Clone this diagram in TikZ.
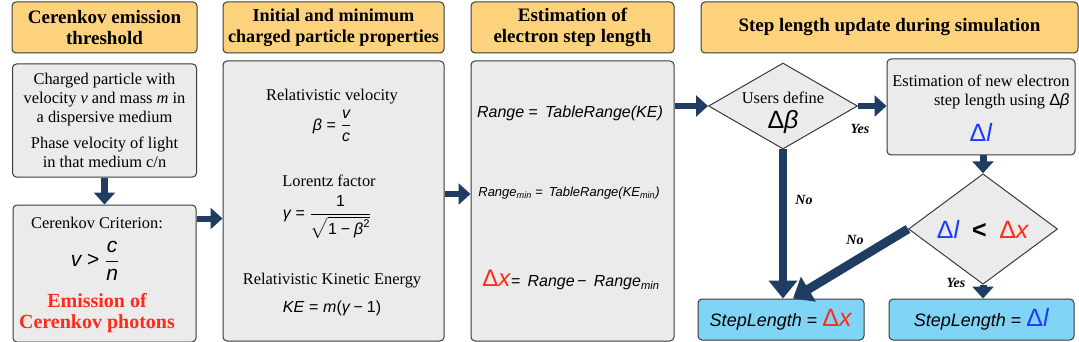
\documentclass[tikz,border=0pt]{standalone}
\usepackage{amsmath}
\usepackage{fontspec}
\setmainfont{Liberation Serif}
\setsansfont{Liberation Sans}
\usepackage{tikz}
\usetikzlibrary{arrows.meta, calc, positioning, shapes.geometric}
\usepackage{xcolor}
\definecolor{mSand}{HTML}{FDD27C}
\definecolor{mPanel}{HTML}{EBEBEB}
\definecolor{mSky}{HTML}{80D5F7}
\definecolor{mNavy}{HTML}{1F3D63}
\definecolor{mEdge}{HTML}{3A3A3A}
\definecolor{mRed}{HTML}{FF2A1A}
\definecolor{mBlue}{HTML}{1A3CFF}
\newcommand{\sv}[1]{\text{\sffamily\itshape #1}}
\newcommand{\su}[1]{\text{\sffamily\upshape #1}}
\newcommand{\eqs}{\mathrel{\su{=}}}
\newcommand{\mns}{\mathbin{\su{−}}}
\newcommand{\fsz}[1]{\fontsize{#1}{#1}\selectfont}
\newcommand{\dl}{\textcolor{mBlue}{\sffamily\upshape Δ\textit{l}}}
\newcommand{\dx}{\textcolor{mRed}{\sffamily\upshape Δ\textit{x}}}

\begin{document}
\begin{tikzpicture}[x=1pt, y=-1pt,
  hdr/.style={draw=mEdge, line width=1pt, rounded corners=4pt, fill=mSand, minimum width=#1,
              minimum height=51pt, align=center, inner sep=0pt,
              font=\fontsize{19}{21}\selectfont\bfseries},
  panel/.style 2 args={draw=mEdge, line width=1pt, rounded corners=4pt, fill=mPanel,
              minimum width=#1, minimum height=#2, align=center, inner sep=0pt,
              font=\fontsize{16.4}{19}\selectfont},
  decide/.style={diamond, draw=mEdge, line width=1pt, fill=mPanel, minimum width=149pt,
              minimum height=86pt, inner sep=0pt},
  result/.style={draw=mEdge, line width=1pt, rounded corners=4pt, fill=mSky, minimum width=#1,
              minimum height=41pt, inner sep=0pt, font=\fontsize{18}{20}\selectfont\sffamily},
  note/.style={inner sep=1pt, font=\fontsize{16.4}{19}\selectfont},
  formula/.style={inner sep=1pt, font=\fontsize{16}{18}\selectfont\sffamily\itshape},
  redtxt/.style={inner sep=1pt, text=mRed, font=\fontsize{20}{22}\selectfont\bfseries},
  lbl/.style={inner sep=1pt, font=\fontsize{14}{14}\selectfont\bfseries\itshape},
  arr/.style={-{Triangle[length=12pt, width=21pt]}, line width=#1, mNavy},
  arr/.default=6pt,
  arrbig/.style={-{Triangle[length=18pt, width=28pt]}, line width=#1, mNavy},
  arrbig/.default=8pt]
  \useasboundingbox (0,0) rectangle (1079,342);

  \node[hdr=185pt] (hThr) at (104.5,27.5) {Cerenkov emission\\threshold};
  \node[hdr=221pt, right=25pt of hThr, font=\fontsize{18.2}{21}\selectfont\bfseries] (hProp)
    {Initial and minimum\\charged particle properties};
  \node[hdr=203pt, right=26pt of hProp] (hEst) {Estimation of\\electron step length};
  \node[hdr=377pt, right=26pt of hEst] (hUpd) {Step length update during simulation};

  \node[panel={184pt}{113pt}, below=10pt of hThr] (bPart)
    {Charged particle with\\velocity \textit{v} and mass \textit{m} in\\a dispersive medium\\[7pt]
     Phase velocity of light\\in that medium c/n};
  \node[panel={183pt}{137pt}, below=27pt of bPart] (bCrit) {};
  \node[panel={221pt}{280pt}, below=7pt of hProp] (bProp) {};
  \node[panel={203pt}{280pt}, below=7pt of hEst] (bEst) {};

  \node[note] (tCrit) at (97,223) {Cerenkov Criterion:};
  \node[formula] (fCrit) at (95,261) {\fsz{21}$\sv{v} \mathrel{\su{>}} \dfrac{\sv{c}}{\sv{n}}$};
  \node[redtxt] (tEmis) at (97,301) {Emission of};
  \node[redtxt] (tPhot) at (97,324) {Cerenkov photons};

  \node[note] (tVel) at (332,97) {Relativistic velocity};
  \node[formula] (fBeta) at (332,126) {\fsz{16}$\sv{β} \eqs \dfrac{\sv{v}}{\sv{c}}$};
  \node[note] (tLor) at (329,181) {Lorentz factor};
  \node[formula] (fGam) at (327,217) {\fsz{16}$\sv{γ} \eqs \dfrac{\su{1}}{\sqrt{\su{1} \mns \sv{β}^{\su{2}}}}$};
  \node[note] (tKin) at (332,281) {Relativistic Kinetic Energy};
  \node[formula] (fKE) at (332,308) {\fsz{16}$\sv{KE} \eqs \sv{m}\su{(}\sv{γ} \mns \su{1)}$};

  \node[formula] (fRange) at (570,113) {Range {\upshape=} \,TableRange(KE)};
  \node[formula, font=\fontsize{13}{15}\selectfont\sffamily\itshape] (fRmin) at (569,193)
    {Range\textsubscript{min} {\upshape=} \,TableRange(KE\textsubscript{min})};
  \node[formula] (fDx) at (571,280) {{\fsz{24}\dx}{\upshape=} \,Range\,{\upshape−} \,Range\textsubscript{min}};

  \node[decide] (dUser) at (783,106) {};
  \node[note] (tUser) at (783,98) {Users define};
  \node[inner sep=1pt, font=\fontsize{25}{25}\selectfont\sffamily] (tDb) at (783,122) {Δ\textit{β}};
  \node[panel={188pt}{96pt}] (bNew) at (981,107)
    {\begin{tabular}{@{}r@{}}Estimation of new electron\\step length using {\sffamily Δ\textit{β}}\end{tabular}\\[11pt]
     {\fsz{25}\dl}};
  \node[decide] (dCmp) at (983,229) {{\fsz{25}\dl\ \ {\bfseries\sffamily <}\ \ \dx}};
  \node[result=166pt] (rDx) at (781,319.5) {\textit{StepLength} = {\fsz{25}\dx}};
  \node[result=185pt] (rDl) at (981.5,319.5) {\textit{StepLength} = {\fsz{25}\dl}};

  \coordinate (critOut) at ($(bCrit.east)+(0,-55)$);
  \coordinate (propOut) at ($(bProp.east)+(0,-7)$);
  \draw[arr=7pt] (bPart.south) -- (bPart.south |- bCrit.north);
  \draw[arr] (critOut) -- (critOut -| bProp.west);
  \draw[arr] (propOut) -- (propOut -| bEst.west);
  \draw[arr] (bEst.east |- dUser.west) -- (dUser.west);
  \draw[arr] (dUser.east) -- (dUser.east -| bNew.west);
  \draw[arr=7pt] (bNew.south -| dCmp.north) -- (dCmp.north);
  \draw[arr=7pt] (dCmp.south) -- (dCmp.south |- rDl.north);
  \draw[arrbig] (dUser.south) -- (dUser.south |- rDx.north);
  \draw[arrbig=9pt] (dCmp.west) -- ([xshift=12pt]rDx.north);

  \node[lbl] (yesA) at (860,129) {Yes};
  \node[lbl] (noA) at (804,200) {No};
  \node[lbl] (noB) at (855,240) {No};
  \node[lbl] (yesB) at (956,283) {Yes};
\end{tikzpicture}
\end{document}
